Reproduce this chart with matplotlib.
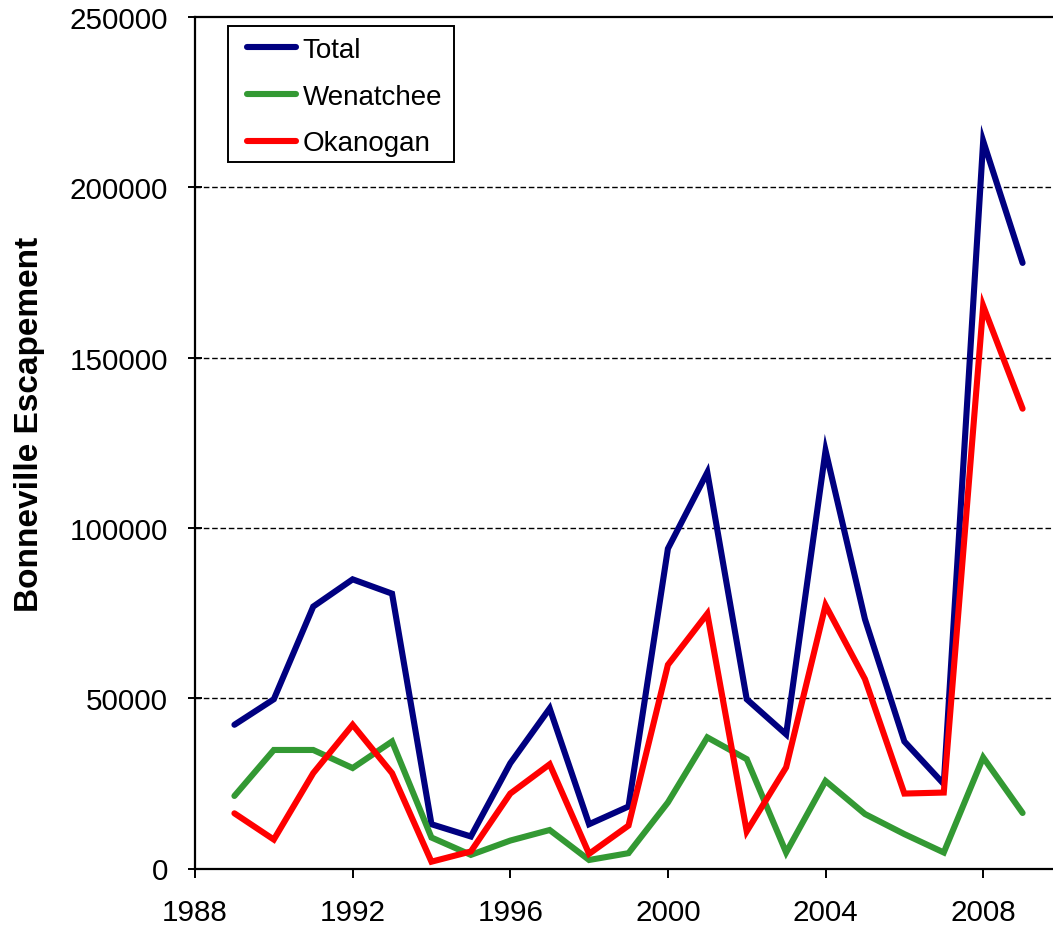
import matplotlib
matplotlib.use("Agg")
import matplotlib.pyplot as plt
from matplotlib.patches import Rectangle

years = list(range(1989, 2010))
total = [42200, 49700, 76900, 84900, 80700, 13000, 9400, 30900, 47000, 13000, 18200,
         93900, 116300, 49700, 39400, 122700, 73200, 37300, 24800, 213600, 177800]
wenatchee = [21300, 34800, 34800, 29500, 37300, 9100, 4000, 8200, 11300, 2500, 4500,
             19400, 38500, 32100, 4700, 25700, 16000, 10100, 4700, 32600, 16300]
okanogan = [16200, 8500, 28000, 42200, 28000, 2000, 5000, 22000, 30600, 4300, 12600,
            59800, 74800, 10900, 29700, 77300, 55600, 22000, 22300, 165200, 135000]

series_names = ["Total", "Wenatchee", "Okanogan"]
series_colors = ["#000080", "#339933", "#FF0000"]
xticks = [1988, 1992, 1996, 2000, 2004, 2008]
yticks = [0, 50000, 100000, 150000, 200000, 250000]

plt.rcParams['font.family'] = ['Liberation Sans', 'DejaVu Sans']

W, H = 1053, 929
fig = plt.figure(figsize=(W / 100, H / 100), dpi=100)
left, right, top, bottom = 195, 1062, 18, 869.5
ax = fig.add_axes([left / W, 1 - bottom / H, (right - left) / W, (bottom - top) / H])

for vals, name, col in zip([total, wenatchee, okanogan], series_names, series_colors):
    ax.plot(years, vals, color=col, lw=4.4, label=name,
            solid_capstyle='round', solid_joinstyle='miter')

ax.set_xlim(1988, 2010)
ax.set_ylim(0, 250000)
ax.set_xticks(xticks)
ax.set_yticks(yticks)
ax.set_xticklabels([str(t) for t in xticks])
ax.set_yticklabels([str(t) for t in yticks])

for yv in yticks[1:-1]:
    ax.axhline(yv, color='black', lw=1.0, ls=(0, (4, 2)), zorder=0)

for s in ['left', 'bottom', 'top']:
    ax.spines[s].set_linewidth(1.6)
ax.spines['right'].set_visible(False)

ax.tick_params(axis='x', direction='out', length=6.5, width=1.4, labelsize=21.3, pad=15)
ax.tick_params(axis='y', direction='inout', length=9.5, width=1.4, labelsize=21.3, pad=14.5)

ax.set_ylabel("Bonneville Escapement", fontsize=24, fontweight='bold',
              va='center', ha='center')
ax.yaxis.set_label_coords(-(left - 30) / (right - left), (bottom - 424) / (bottom - top))

# legend frame (drawn separately to match the wider horizontal padding)
frame = Rectangle((228 / W, 1 - 163 / H), (454 - 228) / W, (163 - 27) / H,
                  transform=fig.transFigure, facecolor='white',
                  edgecolor='black', lw=1.4, zorder=4, clip_on=False)
ax.add_patch(frame)
leg = ax.legend(loc='upper left', bbox_to_anchor=(236 / W, 1 - 27 / H),
                bbox_transform=fig.transFigure, fontsize=20, frameon=False,
                handlelength=1.75, handletextpad=0.25, borderpad=0.4,
                labelspacing=0.74, borderaxespad=0)
leg.set_zorder(6)
for ln in leg.get_lines():
    ln.set_linewidth(4.4)
    ln.set_solid_capstyle('round')

fig.savefig("out.png", dpi=100)
